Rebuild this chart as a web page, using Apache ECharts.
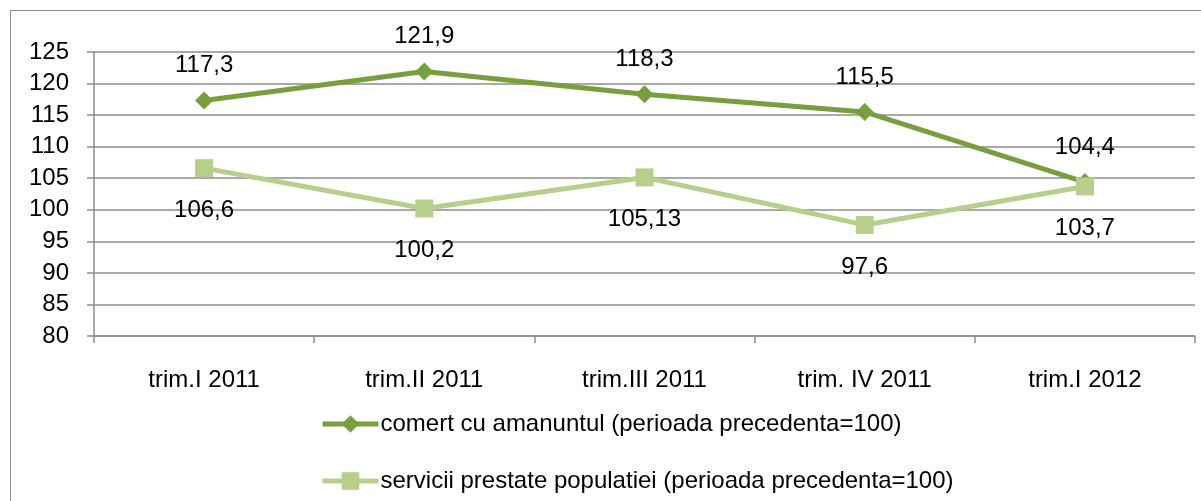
<!DOCTYPE html>
<html><head><meta charset="utf-8">
<script src="https://cdn.jsdelivr.net/npm/echarts@6/dist/echarts.min.js"></script>
<style>html,body{margin:0;padding:0;background:#fff}#c{width:1201px;height:501px}</style>
</head><body><div id="c"></div>
<script>
const categories = ['trim.I 2011', 'trim.II 2011', 'trim.III 2011', 'trim. IV 2011', 'trim.I 2012'];
const comert = [117.3, 121.9, 118.3, 115.5, 104.4];
const servicii = [106.6, 100.2, 105.13, 97.6, 103.7];
const seriesNames = ['comert cu amanuntul (perioada precedenta=100)', 'servicii prestate populatiei (perioada precedenta=100)'];

const FONT = 'Liberation Sans';
const fmt = p => String(p.value).replace('.', ',');
const chart = echarts.init(document.getElementById('c'), null, {renderer: 'canvas'});
chart.setOption({
  animation: false,
  backgroundColor: '#fff',
  textStyle: {fontFamily: FONT},
  graphic: [{type: 'rect', shape: {x: 10.5, y: 10.5, width: 1300, height: 600}, style: {fill: 'none', stroke: '#8c8c8c', lineWidth: 1}}],
  grid: {left: 94, right: 6, top: 52, bottom: 165},
  legend: {
    orient: 'vertical', left: 315, top: 407, itemGap: 33, itemWidth: 56, itemHeight: 22,
    lineStyle: {width: 5},
    textStyle: {fontFamily: FONT, fontSize: 24, lineHeight: 24, color: '#000', padding: [0, 0, 0, -3]},
    data: seriesNames
  },
  xAxis: {
    type: 'category', data: categories, boundaryGap: true,
    axisLine: {lineStyle: {color: '#8c8c8c', width: 1.5}},
    axisTick: {show: true, length: 7, lineStyle: {color: '#8c8c8c', width: 1.5}},
    axisLabel: {fontFamily: FONT, fontSize: 24, color: '#000', margin: 32}
  },
  yAxis: {
    type: 'value', min: 80, max: 125, interval: 5,
    axisLine: {show: true, lineStyle: {color: '#8c8c8c', width: 1.5}},
    axisTick: {show: true, length: 7, lineStyle: {color: '#8c8c8c', width: 1.5}},
    splitLine: {lineStyle: {color: '#8c8c8c', width: 1.5}},
    axisLabel: {fontFamily: FONT, fontSize: 24, color: '#000', margin: 25}
  },
  series: [
    {
      name: seriesNames[0], type: 'line', data: comert,
      symbol: 'diamond', symbolSize: 18,
      lineStyle: {color: '#77a03c', width: 5},
      itemStyle: {color: '#77a03c'},
      label: {show: true, position: 'top', distance: 14, formatter: fmt, fontFamily: FONT, fontSize: 24, color: '#000'}
    },
    {
      name: seriesNames[1], type: 'line', data: servicii,
      symbol: 'rect', symbolSize: 18,
      lineStyle: {color: '#b8cf8c', width: 5},
      itemStyle: {color: '#b8cf8c'},
      label: {show: true, position: 'bottom', distance: 21, formatter: fmt, fontFamily: FONT, fontSize: 24, color: '#000'}
    }
  ]
});
</script></body></html>
